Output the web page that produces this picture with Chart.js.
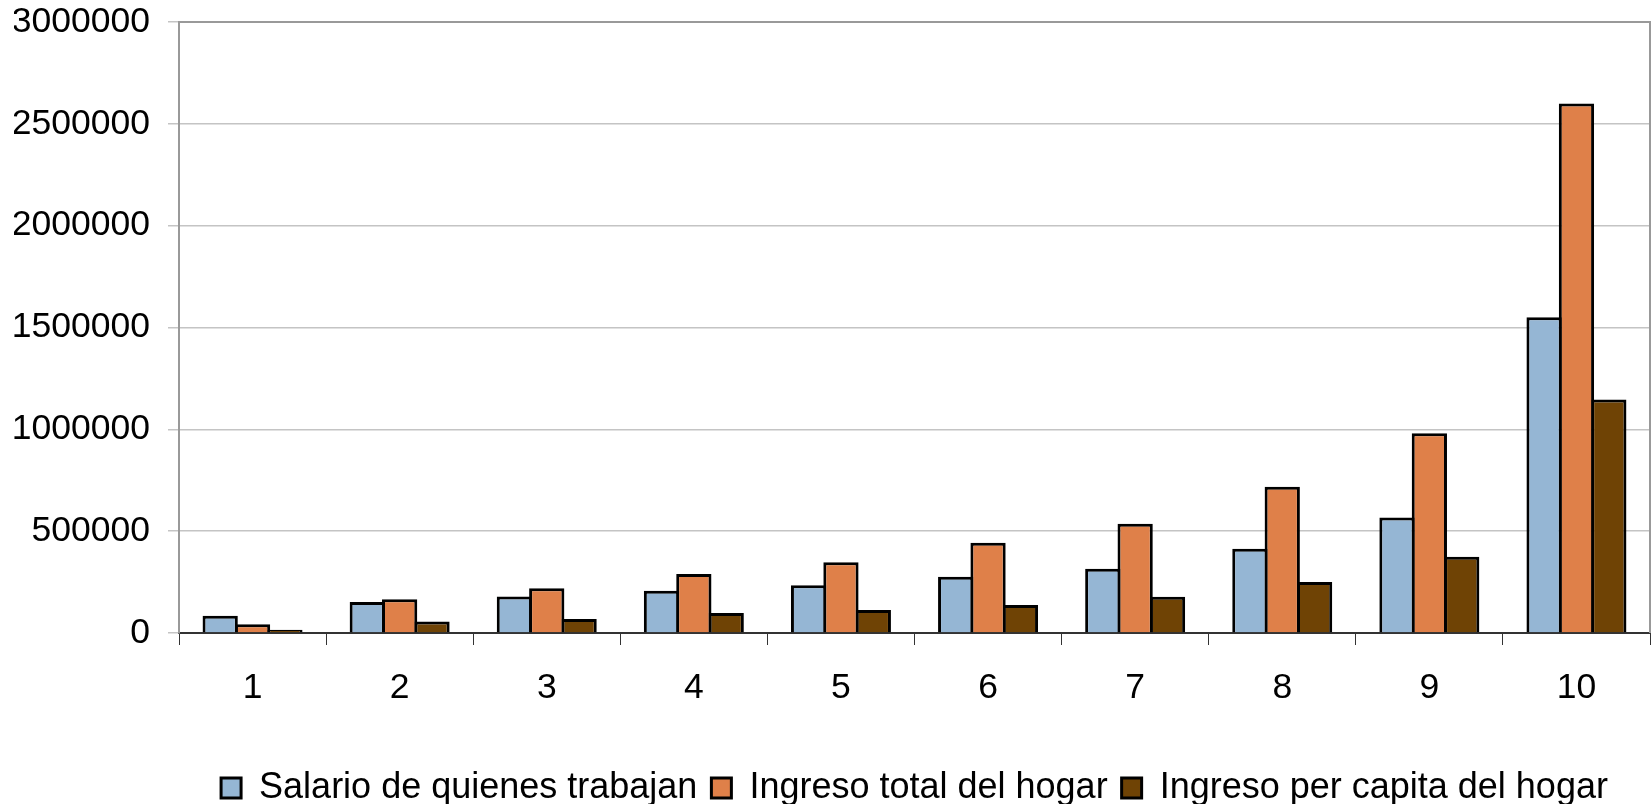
<!DOCTYPE html>
<html>
<head>
<meta charset="utf-8">
<script src="https://cdn.jsdelivr.net/npm/chart.js@4/dist/chart.umd.min.js"></script>
<style>
  html, body { margin: 0; padding: 0; background: #fff; overflow: hidden; }
  #wrap { width: 1652px; height: 804px; }
</style>
</head>
<body>
<div id="wrap"><canvas id="chart" width="1652" height="804"></canvas></div>
<script>
// Deciles
const categories = ['1', '2', '3', '4', '5', '6', '7', '8', '9', '10'];

// Values
const salario = [85000, 152000, 179000, 207000, 235000, 276000, 315000, 414000, 567000, 1550000];
const ingresoTotal = [43000, 166000, 220000, 290000, 347000, 443000, 537000, 718000, 981000, 2600000];
const ingresoPerCapita = [16000, 56000, 69000, 98000, 113000, 137000, 178000, 250000, 374000, 1147000];

const seriesNames = ['Salario de quienes trabajan', 'Ingreso total del hogar', 'Ingreso per capita del hogar'];
const seriesColors = ['#95b6d4', '#df8049', '#6f4305'];

const yMin = 0;
const yMax = 3000000;
const yStep = 500000;

const FONT = '"Liberation Sans", Arial, sans-serif';

// Gray frame on top and right of the plot area
const framePlugin = {
    id: 'frame',
    afterDraw(chart) {
        const a = chart.chartArea;
        const ctx = chart.ctx;
        ctx.save();
        ctx.strokeStyle = '#999999';
        ctx.lineWidth = 2;
        ctx.beginPath();
        ctx.moveTo(a.left, a.top);
        ctx.lineTo(a.right, a.top);
        ctx.lineTo(a.right, a.bottom);
        ctx.stroke();
        ctx.restore();
    }
};

// Bars slightly wider than their slot so neighbours share one border
function makeDataset(label, data, color) {
    return {
        label: label,
        data: data,
        backgroundColor: color,
        borderColor: '#000000',
        borderWidth: 3,
        borderSkipped: 'bottom',
        barPercentage: 1.09,
        categoryPercentage: 0.66
    };
}

const ctx = document.getElementById('chart').getContext('2d');
new Chart(ctx, {
    type: 'bar',
    data: {
        labels: categories,
        datasets: [
            makeDataset(seriesNames[0], salario, seriesColors[0]),
            makeDataset(seriesNames[1], ingresoTotal, seriesColors[1]),
            makeDataset(seriesNames[2], ingresoPerCapita, seriesColors[2])
        ]
    },
    options: {
        responsive: false,
        animation: false,
        layout: { padding: { left: 14, right: 2, top: 0, bottom: -12 } },
        plugins: {
            tooltip: { enabled: false },
            legend: {
                position: 'bottom',
                fullSize: false,
                labels: {
                    color: '#000',
                    font: { family: FONT, size: 36 },
                    boxWidth: 20,
                    boxHeight: 20,
                    padding: 14
                }
            }
        },
        scales: {
            x: {
                afterFit(scale) { scale.height = 123; },
                grid: {
                    offset: true,
                    drawOnChartArea: false,
                    drawTicks: true,
                    tickLength: 12,
                    color: '#333333'
                },
                border: { color: '#333333', width: 2 },
                ticks: {
                    color: '#000',
                    font: { family: FONT, size: 35.5 },
                    padding: 22
                }
            },
            y: {
                min: yMin,
                max: yMax,
                afterFit(scale) {
                    scale.width = 165;
                    scale.paddingTop = 22;
                },
                grid: {
                    color: '#c4c4c4',
                    lineWidth: 1.5,
                    tickLength: 11
                },
                border: { color: '#999999', width: 2 },
                ticks: {
                    stepSize: yStep,
                    color: '#000',
                    font: { family: FONT, size: 35.5 },
                    padding: 18,
                    callback: function(value) { return String(value); }
                }
            }
        }
    },
    plugins: [framePlugin]
});
</script>
</body>
</html>
